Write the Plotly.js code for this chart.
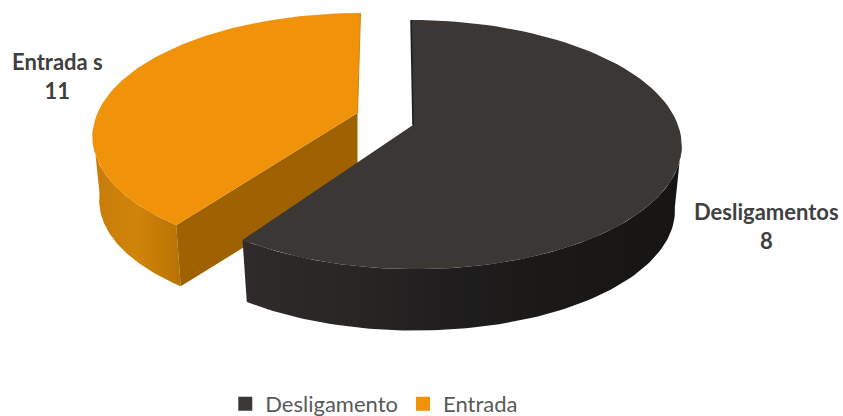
<!DOCTYPE html>
<html>
<head>
<meta charset="utf-8">
<script src="https://cdn.plot.ly/plotly-3.0.1.min.js"></script>
<style>html,body{margin:0;padding:0;background:#fff;overflow:hidden}#c{width:843px;height:416px;overflow:hidden}</style>
</head>
<body>
<div id="c"></div>
<script>
// Data
var categories = ['Desligamento', 'Entrada'];
var sliceShares = [59.6, 40.4];      // percent of the circle each drawn slice spans
var dataLabelNames = ['Desligamentos', 'Entrada s'];
var dataLabelValues = [8, 11];
var topColors = ['#3B3734', '#F0920A'];
var innerWallColor = '#A06200';

// Projection of the 3D pie (perspective tilt), per exploded slice
var BOTTOM_SCALE = 0.975;
var darkView = { apex: [413, 125], k: 0.157, ay: 121.5, sx: 265, lean: 0.019, depth: 65 };
var orangeView = { apex: [357.5, 113], k: 0.18, ay: 118, sx: 260, lean: -0.03, depth: 64 };
function deg(a) { return a * Math.PI / 180; }
function project(v, angle, bottom) {
  var s = Math.sin(deg(angle)), d = Math.cos(deg(angle)), den = 1 + v.k * d;
  var X = v.sx * s / den, Y = -v.ay * d / den;
  X += v.lean * Y;
  if (bottom) { X *= BOTTOM_SCALE; Y = Y * BOTTOM_SCALE + v.depth; }
  return [v.apex[0] + X, v.apex[1] + Y];
}
function arc(v, a0, a1, bottom) {
  var pts = [], n = 90;
  for (var i = 0; i <= n; i++) pts.push(project(v, a0 + (a1 - a0) * i / n, bottom));
  return pts;
}
function poly(pts, color, gradient) {
  var t = {
    type: 'scatter', mode: 'lines', showlegend: false, hoverinfo: 'skip',
    x: pts.map(function (p) { return p[0]; }).concat([pts[0][0]]),
    y: pts.map(function (p) { return p[1]; }).concat([pts[0][1]]),
    fill: 'toself', fillcolor: color, line: { width: 0, color: color }
  };
  if (gradient) t.fillgradient = { type: 'horizontal', colorscale: gradient };
  return t;
}

var split = sliceShares[0] / 100 * 360;
var orangeStart = split + 1.2;
var tangent = 98;
var traces = [];

// Orange slice: outer wall, cut wall, top face, back edge
traces.push(poly(arc(orangeView, orangeStart, 360 - tangent, false)
  .concat(arc(orangeView, orangeStart, 360 - tangent, true).reverse()),
  '#C97E08', [[0, '#C67C0A'], [0.5, '#D08409'], [1, '#B87205']]));
traces.push(poly([orangeView.apex,
  project(orangeView, orangeStart, false),
  project(orangeView, orangeStart, true),
  [orangeView.apex[0], orangeView.apex[1] + orangeView.depth]], innerWallColor));
traces.push(poly([orangeView.apex].concat(arc(orangeView, orangeStart, 360, false)), topColors[1]));
var oTop = project(orangeView, 360, false);
traces.push({
  type: 'scatter', mode: 'lines', showlegend: false, hoverinfo: 'skip',
  x: [orangeView.apex[0], oTop[0]], y: [orangeView.apex[1], oTop[1]],
  line: { color: '#D0860C', width: 1 }
});
// Dark slice: outer wall, top face, back edge
traces.push(poly(arc(darkView, tangent, split, false)
  .concat(arc(darkView, tangent, split, true).reverse()),
  '#211F20', [[0, '#2E2B2A'], [0.3, '#272523'], [0.45, '#201E1F'], [0.7, '#1A1917'], [1, '#161513']]));
traces.push(poly([darkView.apex].concat(arc(darkView, 0, split, false)), topColors[0]));
var dTop = project(darkView, 0, false);
traces.push({
  type: 'scatter', mode: 'lines', showlegend: false, hoverinfo: 'skip',
  x: [darkView.apex[0], dTop[0]], y: [darkView.apex[1], dTop[1]],
  line: { color: '#1E1C1B', width: 1.5 }
});
// Legend entries
categories.forEach(function (c, i) {
  traces.push({
    type: 'scatter', mode: 'markers', name: c, x: [null], y: [null],
    marker: { symbol: 'square', size: 14, color: topColors[i] }, hoverinfo: 'skip'
  });
});

var labelFont = { family: 'Lato, sans-serif', size: 22, color: '#404040', weight: 700 };
var CANVAS_H = 440;   // taller than the window so the legend can sit at the very bottom without pushing margins
var layout = {
  width: 843, height: CANVAS_H,
  margin: { l: 0, r: 0, t: 0, b: 0 },
  paper_bgcolor: '#fff', plot_bgcolor: '#fff',
  xaxis: { range: [0, 843], visible: false, fixedrange: true },
  yaxis: { range: [CANVAS_H, 0], visible: false, fixedrange: true },
  showlegend: true,
  legend: {
    orientation: 'h', x: 0.444, xanchor: 'center', y: (CANVAS_H - 404) / CANVAS_H, yanchor: 'middle',
    font: { family: 'Lato, sans-serif', size: 22, color: '#595959' },
    bgcolor: 'rgba(0,0,0,0)', itemwidth: 30, traceorder: 'normal'
  },
  annotations: [
    { x: 766, y: 225.5, xref: 'x', yref: 'y', showarrow: false, align: 'center', font: labelFont,
      text: dataLabelNames[0] + '<br>' + dataLabelValues[0] },
    { x: 57.5, y: 76, xref: 'x', yref: 'y', showarrow: false, align: 'center', font: labelFont,
      text: dataLabelNames[1] + '<br>' + dataLabelValues[1] }
  ]
};
Plotly.newPlot('c', traces, layout, { displayModeBar: false, staticPlot: true });
</script>
</body>
</html>
